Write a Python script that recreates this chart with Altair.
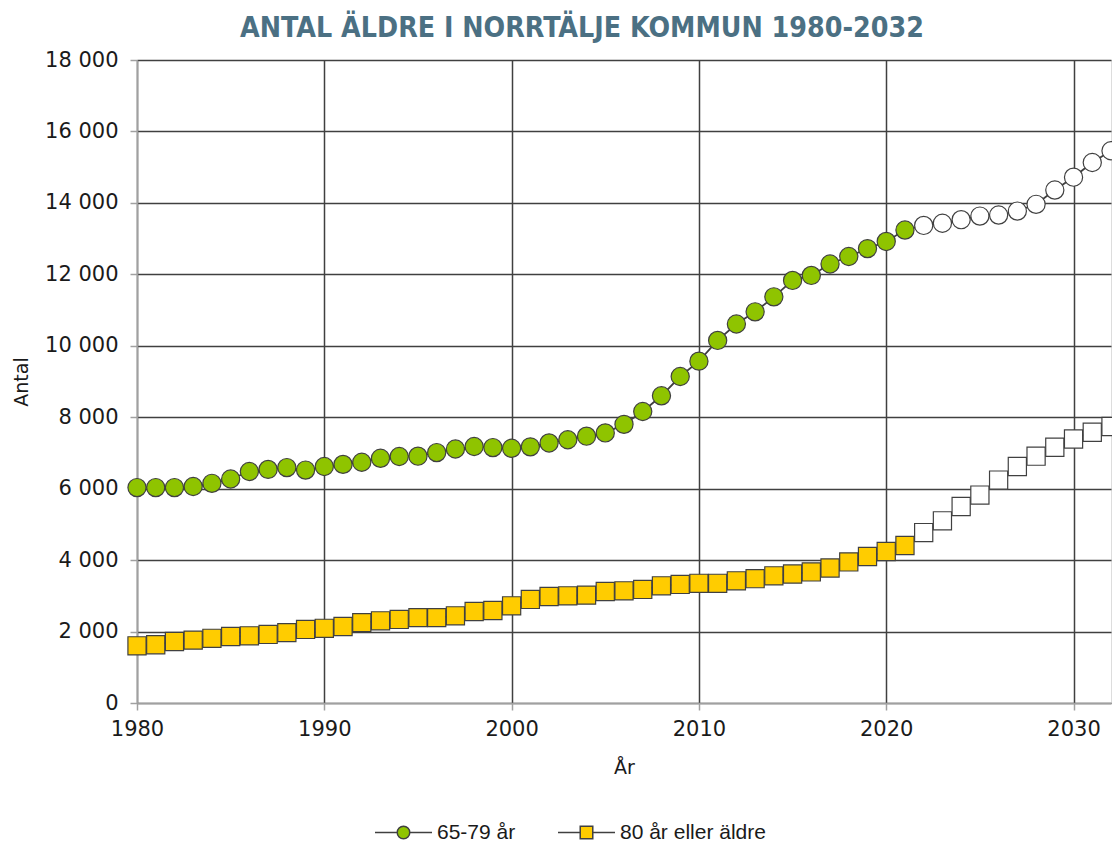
import altair as alt
import pandas as pd

years = list(range(1980, 2033))
age_65_79 = [6030, 6030, 6030, 6060, 6150, 6270, 6480, 6540, 6590, 6520,
             6620, 6680, 6740, 6850, 6900, 6910, 7010, 7110, 7180, 7150,
             7130, 7170, 7280, 7370, 7470, 7560, 7800, 8160, 8600, 9140,
             9570, 10150, 10610, 10950, 11370, 11830, 11970, 12290, 12500, 12720,
             12920, 13240, 13370, 13430, 13530, 13630, 13660, 13770, 13960, 14360,
             14720, 15130, 15460]
age_80_plus = [1600, 1630, 1720, 1760, 1810, 1860, 1880, 1920, 1970, 2060,
               2090, 2140, 2250, 2300, 2340, 2390, 2390, 2440, 2560, 2590,
               2720, 2900, 2980, 3000, 3020, 3120, 3140, 3180, 3280, 3320,
               3350, 3350, 3420, 3480, 3560, 3610, 3670, 3780, 3950, 4100,
               4240, 4410, 4770, 5100, 5500, 5820, 6240, 6620, 6910, 7160,
               7390, 7580, 7740]
series_names = ["65-79 år", "80 år eller äldre"]
series_colors = ["#8fc400", "#ffcc00"]
series_shapes = ["circle", "square"]
last_actual_year = 2021
x_ticks = [1980, 1990, 2000, 2010, 2020, 2030]
y_ticks = list(range(0, 18001, 2000))

rows = []
for name, vals in zip(series_names, [age_65_79, age_80_plus]):
    for yr, v in zip(years, vals):
        rows.append({"År": yr, "Antal": v, "serie": name,
                     "prognos": yr > last_actual_year})
df = pd.DataFrame(rows)

LINE = "#404040"
AXIS_FONT = "DejaVu Sans"

x_enc = alt.X("År:Q",
              scale=alt.Scale(domain=[1980, 2032], nice=False, zero=False),
              axis=alt.Axis(values=x_ticks, format="d", title="År",
                            labelFontSize=21, titleFontSize=19,
                            labelPadding=8, titlePadding=19, labelFlush=False,
                            labelFont=AXIS_FONT, titleFont=AXIS_FONT,
                            labelColor="#1a1a1a", titleColor="#1a1a1a",
                            titleFontWeight="normal",
                            grid=True, gridColor=LINE, gridWidth=1.5,
                            domainColor="#a0a0a0", domainWidth=1.5,
                            tickColor="#a0a0a0", tickSize=7, tickWidth=1.5))
y_enc = alt.Y("Antal:Q",
              scale=alt.Scale(domain=[0, 18000], nice=False),
              axis=alt.Axis(values=y_ticks, title="Antal",
                            labelExpr="replace(format(datum.value, ',d'), ',', ' ')",
                            labelFontSize=21, titleFontSize=19,
                            labelPadding=12, titlePadding=13,
                            labelFont=AXIS_FONT, titleFont=AXIS_FONT,
                            labelColor="#1a1a1a", titleColor="#1a1a1a",
                            titleFontWeight="normal",
                            grid=True, gridColor=LINE, gridWidth=1.5,
                            domainColor="#a0a0a0", domainWidth=1.5,
                            tickColor="#a0a0a0", tickSize=7, tickWidth=1.5))

base = alt.Chart(df)

line = base.mark_line(color=LINE, strokeWidth=1.8).encode(
    x=x_enc, y=y_enc, detail="serie:N")

legend_paths = [
    "M-1,0H-0.22M0.22,0H1M0.22,0A0.22,0.22 0 1 1 -0.22,0A0.22,0.22 0 1 1 0.22,0Z",
    "M-1,0H-0.22M0.22,0H1M-0.22,-0.22H0.22V0.22H-0.22Z",
]
legend_x = [237, 420]

layers = [line]
for name, color, shape in zip(series_names, series_colors, series_shapes):
    actual = base.mark_point(filled=True, size=330, stroke=LINE, strokeWidth=1.2,
                             fill=color, shape=shape, opacity=1).encode(
        x="År:Q", y="Antal:Q"
    ).transform_filter(
        (alt.datum.serie == name) & (alt.datum.prognos == False))
    forecast = base.mark_point(filled=True, size=330, stroke=LINE, strokeWidth=1.2,
                               fill="white", shape=shape, opacity=1).encode(
        x="År:Q", y="Antal:Q"
    ).transform_filter(
        (alt.datum.serie == name) & (alt.datum.prognos == True))
    layers += [actual, forecast]

for name, color, path, lx in zip(series_names, series_colors, legend_paths, legend_x):
    leg = alt.Legend(
        title=None, orient="none", direction="horizontal",
        legendX=lx, legendY=743,
        labelFont="Liberation Sans", labelFontSize=21, labelColor="#1a1a1a",
        labelOffset=4, symbolType=path,
        symbolSize=3249, symbolStrokeColor=LINE, symbolStrokeWidth=1.5,
        symbolOpacity=1)
    dummy = base.mark_point(filled=True, opacity=0, size=1).encode(
        x="År:Q", y="Antal:Q",
        fill=alt.Fill("serie:N", scale=alt.Scale(domain=[name], range=[color]),
                      legend=leg),
    ).transform_filter((alt.datum.serie == name) & (alt.datum.År == 1980))
    layers.append(dummy)

chart = alt.layer(*layers).resolve_scale(
    fill="independent"
).properties(
    width=974, height=643,
    autosize=alt.AutoSizeParams(type="none"),
    padding={"left": 129, "top": 52, "right": 1, "bottom": 138},
    title=alt.Title("ANTAL ÄLDRE I NORRTÄLJE KOMMUN 1980-2032",
                    font="DejaVu Sans Condensed, sans-serif",
                    fontSize=28.3, fontWeight="bold", color="#4b7083",
                    anchor="middle", dx=-42, offset=6),
).configure_view(stroke=LINE, strokeWidth=1.5).configure(background="white")

chart.save("out.html", embed_options={"renderer": "svg", "actions": False})
